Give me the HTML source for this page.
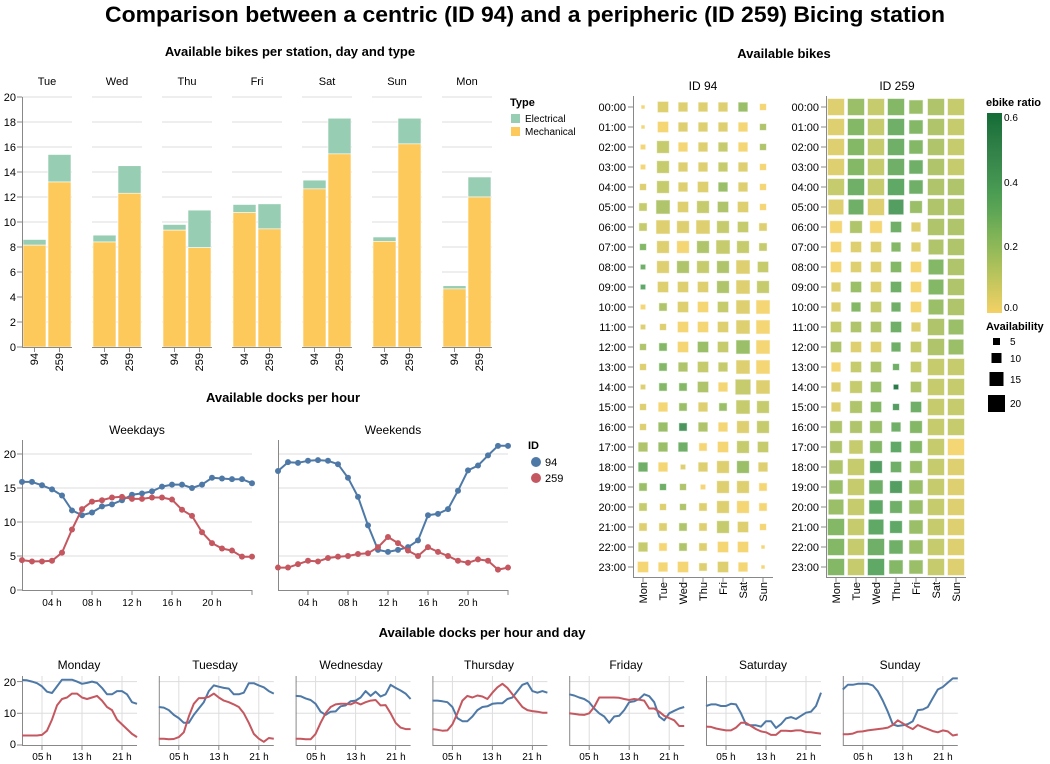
<!DOCTYPE html>
<html><head><meta charset="utf-8">
<style>
html,body{margin:0;padding:0;background:#fff;width:1050px;height:764px;overflow:hidden}
svg{display:block}
svg text{font-family:"Liberation Sans","DejaVu Sans",sans-serif;fill:#000}
.t{font-size:11px}
.b{font-weight:bold;font-size:13px}
.h{font-size:12px}
</style></head><body>
<svg id="s" width="1050" height="764" xmlns="http://www.w3.org/2000/svg">
<text x="105" y="22" textLength="840" lengthAdjust="spacingAndGlyphs" style="font-weight:bold;font-size:22px">Comparison between a centric (ID 94) and a peripheric (ID 259) Bicing station</text>
<text class="b" x="290" y="56" text-anchor="middle">Available bikes per station, day and type</text>
<text class="b" x="784" y="58" text-anchor="middle">Available bikes</text>
<text class="b" x="283" y="402" text-anchor="middle">Available docks per hour</text>
<text class="b" x="482" y="637" text-anchor="middle">Available docks per hour and day</text>
<g id="g"></g>
<g class="t" text-anchor="middle">
<text x="47" y="85">Tue</text><text x="117" y="85">Wed</text><text x="187" y="85">Thu</text><text x="257" y="85">Fri</text><text x="327" y="85">Sat</text><text x="397" y="85">Sun</text><text x="467" y="85">Mon</text>
</g>
<g class="t" text-anchor="end">
<text x="16" y="351">0</text><text x="16" y="326">2</text><text x="16" y="301">4</text><text x="16" y="276">6</text><text x="16" y="251">8</text><text x="16" y="226">10</text><text x="16" y="201">12</text><text x="16" y="176">14</text><text x="16" y="151">16</text><text x="16" y="126">18</text><text x="16" y="101">20</text>
</g>
<g class="t" text-anchor="end">
<text transform="translate(38,353) rotate(-90)">94</text><text transform="translate(63,353) rotate(-90)">259</text>
<text transform="translate(108,353) rotate(-90)">94</text><text transform="translate(133,353) rotate(-90)">259</text>
<text transform="translate(178,353) rotate(-90)">94</text><text transform="translate(203,353) rotate(-90)">259</text>
<text transform="translate(248,353) rotate(-90)">94</text><text transform="translate(273,353) rotate(-90)">259</text>
<text transform="translate(318,353) rotate(-90)">94</text><text transform="translate(343,353) rotate(-90)">259</text>
<text transform="translate(388,353) rotate(-90)">94</text><text transform="translate(413,353) rotate(-90)">259</text>
<text transform="translate(458,353) rotate(-90)">94</text><text transform="translate(483,353) rotate(-90)">259</text>
</g>
<text x="510" y="106" style="font-weight:bold;font-size:11px">Type</text>
<rect x="511" y="114" width="9" height="9" fill="#97cdb2"/><rect x="511" y="127" width="9" height="9" fill="#fdc95b"/>
<text class="t" x="525" y="122" style="font-size:10px">Electrical</text><text class="t" x="525" y="135" style="font-size:10px">Mechanical</text>
<text class="h" x="703" y="90" text-anchor="middle">ID 94</text>
<text class="h" x="897" y="90" text-anchor="middle">ID 259</text>
<g class="t" text-anchor="end">
<text x="626" y="111">00:00</text><text x="626" y="131">01:00</text><text x="626" y="151">02:00</text><text x="626" y="171">03:00</text><text x="626" y="191">04:00</text><text x="626" y="211">05:00</text><text x="626" y="231">06:00</text><text x="626" y="251">07:00</text><text x="626" y="271">08:00</text><text x="626" y="291">09:00</text><text x="626" y="311">10:00</text><text x="626" y="331">11:00</text><text x="626" y="351">12:00</text><text x="626" y="371">13:00</text><text x="626" y="391">14:00</text><text x="626" y="411">15:00</text><text x="626" y="431">16:00</text><text x="626" y="451">17:00</text><text x="626" y="471">18:00</text><text x="626" y="491">19:00</text><text x="626" y="511">20:00</text><text x="626" y="531">21:00</text><text x="626" y="551">22:00</text><text x="626" y="571">23:00</text>
<text x="819" y="111">00:00</text><text x="819" y="131">01:00</text><text x="819" y="151">02:00</text><text x="819" y="171">03:00</text><text x="819" y="191">04:00</text><text x="819" y="211">05:00</text><text x="819" y="231">06:00</text><text x="819" y="251">07:00</text><text x="819" y="271">08:00</text><text x="819" y="291">09:00</text><text x="819" y="311">10:00</text><text x="819" y="331">11:00</text><text x="819" y="351">12:00</text><text x="819" y="371">13:00</text><text x="819" y="391">14:00</text><text x="819" y="411">15:00</text><text x="819" y="431">16:00</text><text x="819" y="451">17:00</text><text x="819" y="471">18:00</text><text x="819" y="491">19:00</text><text x="819" y="511">20:00</text><text x="819" y="531">21:00</text><text x="819" y="551">22:00</text><text x="819" y="571">23:00</text>
</g>
<g class="t" text-anchor="end">
<text transform="translate(647,582) rotate(-90)">Mon</text><text transform="translate(667,582) rotate(-90)">Tue</text><text transform="translate(687,582) rotate(-90)">Wed</text><text transform="translate(707,582) rotate(-90)">Thu</text><text transform="translate(727,582) rotate(-90)">Fri</text><text transform="translate(747,582) rotate(-90)">Sat</text><text transform="translate(767,582) rotate(-90)">Sun</text>
<text transform="translate(840,582) rotate(-90)">Mon</text><text transform="translate(860,582) rotate(-90)">Tue</text><text transform="translate(880,582) rotate(-90)">Wed</text><text transform="translate(900,582) rotate(-90)">Thu</text><text transform="translate(920,582) rotate(-90)">Fri</text><text transform="translate(940,582) rotate(-90)">Sat</text><text transform="translate(960,582) rotate(-90)">Sun</text>
</g>
<defs><linearGradient id="gg" x1="0" y1="1" x2="0" y2="0">
<stop offset="0" stop-color="#f4d166"/><stop offset="0.1" stop-color="#d5ca60"/><stop offset="0.2" stop-color="#b6c35c"/><stop offset="0.3" stop-color="#98bb59"/><stop offset="0.4" stop-color="#7cb257"/><stop offset="0.5" stop-color="#60a656"/><stop offset="0.6" stop-color="#4b9c53"/><stop offset="0.7" stop-color="#3f8f4f"/><stop offset="0.8" stop-color="#33834a"/><stop offset="0.9" stop-color="#257740"/><stop offset="1" stop-color="#146c36"/>
</linearGradient></defs>
<text x="986" y="106" style="font-weight:bold;font-size:11px">ebike ratio</text>
<rect x="987" y="113" width="15" height="200" fill="url(#gg)"/>
<g class="t" style="font-size:10px"><text x="1004" y="121">0.6</text><text x="1004" y="186">0.4</text><text x="1004" y="250">0.2</text><text x="1004" y="311">0.0</text></g>
<text x="986" y="330" style="font-weight:bold;font-size:11px">Availability</text>
<rect x="993" y="338" width="7" height="7" fill="#000"/><rect x="991.5" y="353" width="10" height="10" fill="#000"/><rect x="989.5" y="372" width="14" height="14" fill="#000"/><rect x="988" y="395" width="17" height="17" fill="#000"/>
<g class="t" style="font-size:10px"><text x="1010" y="345">5</text><text x="1010" y="362">10</text><text x="1010" y="383">15</text><text x="1010" y="407">20</text></g>
<text class="h" x="137" y="434" text-anchor="middle">Weekdays</text>
<text class="h" x="393" y="434" text-anchor="middle">Weekends</text>
<g class="t" text-anchor="end"><text x="16" y="594">0</text><text x="16" y="560">5</text><text x="16" y="526">10</text><text x="16" y="492">15</text><text x="16" y="458">20</text></g>
<g class="t" text-anchor="middle" style="font-size:10px">
<text x="52" y="606">04 h</text><text x="92" y="606">08 h</text><text x="132" y="606">12 h</text><text x="172" y="606">16 h</text><text x="212" y="606">20 h</text>
<text x="308" y="606">04 h</text><text x="348" y="606">08 h</text><text x="388" y="606">12 h</text><text x="428" y="606">16 h</text><text x="468" y="606">20 h</text>
</g>
<text x="528" y="449" style="font-weight:bold;font-size:11px">ID</text>
<circle cx="536" cy="462" r="5" fill="#4e79a7"/><circle cx="536" cy="478" r="5" fill="#c4575f"/>
<text class="t" x="545" y="466">94</text><text class="t" x="545" y="482">259</text>
<g class="h" text-anchor="middle">
<text x="79" y="669">Monday</text><text x="215" y="669">Tuesday</text><text x="351" y="669">Wednesday</text><text x="489" y="669">Thursday</text><text x="626" y="669">Friday</text><text x="763" y="669">Saturday</text><text x="900" y="669">Sunday</text>
</g>
<g class="t" text-anchor="end"><text x="16" y="748">0</text><text x="16" y="717">10</text><text x="16" y="686">20</text></g>
<g class="t" text-anchor="middle" style="font-size:10px">
<text x="42" y="760">05 h</text><text x="82" y="760">13 h</text><text x="122" y="760">21 h</text>
<text x="179" y="760">05 h</text><text x="219" y="760">13 h</text><text x="259" y="760">21 h</text>
<text x="316" y="760">05 h</text><text x="356" y="760">13 h</text><text x="396" y="760">21 h</text>
<text x="452" y="760">05 h</text><text x="492" y="760">13 h</text><text x="532" y="760">21 h</text>
<text x="589" y="760">05 h</text><text x="629" y="760">13 h</text><text x="669" y="760">21 h</text>
<text x="726" y="760">05 h</text><text x="766" y="760">13 h</text><text x="806" y="760">21 h</text>
<text x="863" y="760">05 h</text><text x="903" y="760">13 h</text><text x="943" y="760">21 h</text>
</g>
</svg>
<script>
var g=document.getElementById('g'),out='';
function R(x,y,w,h,f,ex){out+='<rect x="'+x+'" y="'+y+'" width="'+w+'" height="'+h+'" fill="'+f+'" '+(ex||'')+'/>';}
function L(x1,y1,x2,y2,c,w){out+='<line x1="'+x1+'" y1="'+y1+'" x2="'+x2+'" y2="'+y2+'" stroke="'+c+'" stroke-width="'+(w||1)+'"/>';}
var bars=[[8.15,8.6,13.2,15.4],[8.4,8.95,12.3,14.5],[9.35,9.8,7.95,10.95],[10.75,11.4,9.45,11.45],[12.65,13.35,15.45,18.3],[8.45,8.8,16.25,18.3],[4.65,4.9,12.0,13.6]];
function by(v){return 347-v*12.5;}
for(var k=0;k<7;k++){var x0=22+70*k;
 for(var v=2;v<=20;v+=2)L(x0,by(v),x0+50,by(v),'#ddd');
 var b=bars[k];
 [[x0+1,b[0],b[1]],[x0+26,b[2],b[3]]].forEach(function(q){
  R(q[0],by(q[2]),23,by(q[1])-by(q[2]),'#97cdb2','stroke="#fff" stroke-width="0.6"');
  R(q[0],by(q[1]),23,347-by(q[1]),'#fdc95b','stroke="#fff" stroke-width="0.6"');
  L(q[0]+11.5,347,q[0]+11.5,352,'#888');});
 L(x0,347.5,x0+50,347.5,'#888');}
L(22.5,97,22.5,347,'#888');
for(var v=0;v<=20;v+=2)L(17,by(v),22,by(v),'#888');
var cs=['#f4d166','#d5ca60','#b6c35c','#98bb59','#7cb257','#60a656','#4b9c53','#3f8f4f','#33834a','#257740','#146c36'];
function hx(c){return [parseInt(c.substr(1,2),16),parseInt(c.substr(3,2),16),parseInt(c.substr(5,2),16)];}
function col(r){var t=Math.min(r/0.6,1)*10,i=Math.min(Math.floor(t),9),f=t-i,a=hx(cs[i]),b=hx(cs[i+1]);
 return 'rgb('+a.map(function(v,j){return Math.round(v+(b[j]-v)*f);}).join(',')+')';}
var s94="0544442 0544442 1644442 1644442 2645442 3756552 3767653 2666763 1666675 1555676 1355577 1255577 2355577 2345477 1335487 2434376 2434466 4443565 4414664 3221663 3223663 3333652 4333550 5453540".split(' ');
var r94="0111140 0011103 0201203 0211210 1211410 2312310 2111221 5103222 6132312 7111312 0310210 1100110 3504240 1532210 1553021 1041422 1493012 3460022 6011141 4630110 2131100 1131210 2031000 0001100".split(' ');
var s259="9999799 9999799 9999799 9999799 9999799 8898699 6665499 5554489 5555589 4555589 4454589 5555498 5554598 4552599 4651599 4652599 6664699 6765699 7965699 7976799 8976799 9986799 9997799 9997799".split(' ');
var r259="1425432 1526532 1526532 1526632 2627633 1618433 0306133 0115133 0115053 1416053 1526043 2336134 3116234 0236222 124c322 1358622 3346522 3257520 3286421 4268421 4276421 5277421 5266421 5275421".split(' ');
function heat(x0,S,Rr,ax){
 for(var h=0;h<24;h++){var y=107+20*h;L(ax-5,y,ax,y,'#888');
  for(var d=0;d<7;d++){var sd=4+parseInt(S[h][d])*1.45,rt=parseInt(Rr[h][d],16)*0.05,x=x0+20*d;
   R(x-sd/2,y-sd/2,sd,sd,col(rt),'stroke="#fff" stroke-opacity="0.6" stroke-width="1" fill-opacity="0.9"');}}
 for(var d=0;d<7;d++)L(x0+20*d,577,x0+20*d,582,'#888');
 L(ax+0.5,96,ax+0.5,577,'#888');L(ax,577.5,x0+20*6+10,577.5,'#888');}
heat(643,s94,r94,633);heat(836,s259,r259,826);
function path(xs,ys,c,w){var d='';for(var i=0;i<xs.length;i++)d+=(i?'L':'M')+xs[i].toFixed(1)+','+ys[i].toFixed(1);
 out+='<path d="'+d+'" fill="none" stroke="'+c+'" stroke-width="'+w+'" stroke-linejoin="round"/>';}
var wd94=[15.9,15.9,15.4,14.8,13.9,11.7,11.0,11.4,12.3,12.6,13.2,14.0,14.2,14.5,15.2,15.5,15.5,15.0,15.5,16.5,16.4,16.3,16.3,15.7];
var wd259=[4.4,4.2,4.2,4.3,5.5,8.9,11.9,13.0,13.2,13.6,13.7,13.4,13.4,13.6,13.6,13.3,11.8,10.9,8.5,6.9,6.1,5.8,4.9,4.9];
var we94=[17.5,18.8,18.7,19.0,19.1,19.0,18.5,16.5,13.7,9.5,5.9,5.6,5.9,6.3,7.3,11.0,11.2,11.9,14.6,17.6,18.3,19.8,21.2,21.2];
var we259=[3.3,3.3,3.8,4.3,4.2,4.7,4.9,5.0,5.3,5.4,6.3,7.8,6.9,5.8,5.0,6.3,5.6,5.0,4.3,4.0,4.5,4.3,3.0,3.3];
function ly(v){return 590-v*6.8;}
[[22,wd94,wd259],[278,we94,we259]].forEach(function(p){var x0=p[0];
 for(var v=5;v<=20;v+=5)L(x0,ly(v),x0+230,ly(v),'#ddd');
 L(x0+0.5,440,x0+0.5,590,'#888');L(x0,590.5,x0+230,590.5,'#888');
 for(var i=3;i<24;i+=4)L(x0+10*i,590,x0+10*i,595,'#888');
 [[p[1],'#4e79a7'],[p[2],'#c4575f']].forEach(function(q){
  var xs=q[0].map(function(v,i){return x0+10*i;}),ys=q[0].map(ly);
  path(xs,ys,q[1],2);for(var i=0;i<24;i++)out+='<circle cx="'+xs[i]+'" cy="'+ys[i]+'" r="3" fill="'+q[1]+'"/>';});});
for(var v=0;v<=20;v+=5)L(17,ly(v),22,ly(v),'#888');
var D=[
[[20.5,20.4,20,19.5,18.5,16.8,16.4,18.5,20.6,20.6,20.6,20,19.3,19.6,20,19.6,18,16,16,17,17,16,13.5,13],[3,3,3,3,3.2,4.5,8,12.5,14.5,15,16.2,16.2,15,14.5,15,15.5,14,12,11,8,6.5,5,3.5,2.5]],
[[12,11.8,11,9.5,8.5,7,7,9.5,11.5,13.5,17,18.8,18.4,18,17.8,16,16,16.5,19.5,19.5,18.8,18.2,17,16.2],[2,2,1.8,1.9,2.5,4,9,13,14.8,14.8,15.2,16.2,15,14,13.5,12.8,12,10,7,3.5,2,1,2.2,2]],
[[15.5,15.4,14.7,14.2,13,10.5,9.5,10.5,10.6,12.2,12.5,13.8,14,15,17,15.5,16.8,15.3,16,19,18,17.2,16.2,14.5],[2,2,1.8,1.8,3.5,7,10,12,12.8,13,13,12.8,13.5,12.8,13.5,14,14.2,12.5,12.6,10,7,5.5,5,5]],
[[14,14,13.8,13.5,12,8.5,7.5,7.5,9,11,12,12.2,13,13.2,13.2,14.5,15,17,19,19.6,17,16.5,17,16.5],[5,4.8,4.5,4.6,6.5,10,14,15.5,15,15.6,15.3,14.5,16.5,18.2,19.3,18,16,14,12,11,10.7,10.5,10.2,10.2]],
[[16,15.6,15,14.5,13.5,11.5,10,9,7,9,9.2,11,13.5,13.8,14.5,16,15.4,13.5,9,7.8,10,10.8,11.5,12],[10,9.8,9.6,9.5,10,12,15,15,15,15,14.9,14.5,14.2,14.5,14.3,14,11.5,11.5,10.5,9.2,8.5,7.8,6,6]],
[[12.3,12.8,12.8,12.3,12.3,13,12.8,10,6.5,6.2,6.2,5.8,7.5,7.5,5.4,6.6,8.4,8.8,8.2,9.2,10.2,10.5,12.3,16.5],[5.8,5.7,5.2,4.9,4.6,4.6,5.5,7,7,6,5,4.3,4,3.2,3.2,4.5,4.5,4.4,4.6,4.6,4.1,4.0,3.8,3.6]],
[[17.5,19,19,19.3,19.3,19.3,18.8,17,14,10.5,6.5,6,6.2,6.6,7.5,11,11.2,12,14.8,17.5,18.3,19.7,21,21],[3.4,3.4,3.6,4.2,4.3,4.6,4.8,5,5.2,5.5,6.3,7.8,6.8,5.8,5,6.3,5.6,5,4.4,4,4.6,4.3,3,3.3]]];
function sy(v){return 745-v*3.17;}
for(var k=0;k<7;k++){var x0=22+136.8*k,dx=115/23;
 [10,20].forEach(function(v){L(x0,sy(v),x0+115,sy(v),'#ddd');});
 [4,12,20].forEach(function(i){L(x0+dx*i,676,x0+dx*i,745,'#ddd');L(x0+dx*i,745,x0+dx*i,750,'#888');});
 L(x0+0.5,676,x0+0.5,745,'#888');L(x0,745.5,x0+115,745.5,'#888');
 [[D[k][0],'#4e79a7'],[D[k][1],'#c4575f']].forEach(function(q){
  path(q[0].map(function(v,i){return x0+dx*i;}),q[0].map(sy),q[1],2);});}
[0,10,20].forEach(function(v){L(17,sy(v),22,sy(v),'#888');});
g.innerHTML=out;
</script>
</body></html>
